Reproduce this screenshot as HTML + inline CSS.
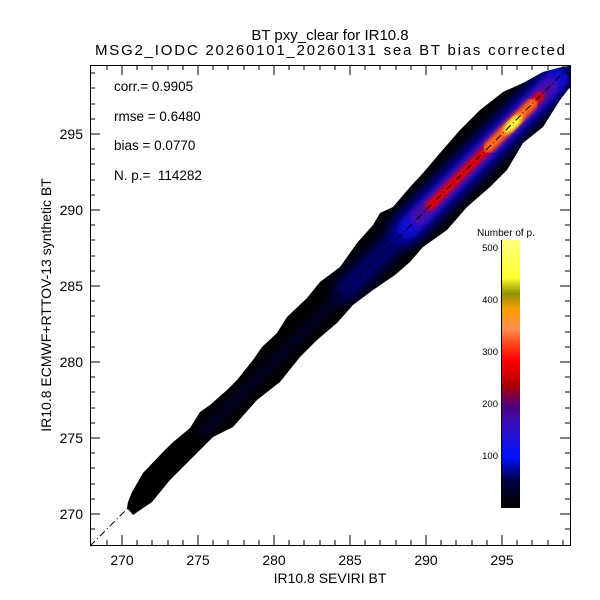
<!DOCTYPE html>
<html><head><meta charset="utf-8"><style>
html,body{margin:0;padding:0;background:#fff;}
svg{display:block;font-family:"Liberation Sans",sans-serif;}
</style></head><body>
<svg width="600" height="600" viewBox="0 0 600 600" xmlns="http://www.w3.org/2000/svg">
<defs>
<clipPath id="blob"><polygon points="127,508 128,502 132,492 143,473 162,453 172,443 190,428 200,412 210,405 227,390 237,380 253,360 262,347 277,333 287,317 307,298 320,282 340,267 357,243 373,225 380,213 393,207 410,187 423,173 440,153 460,130 480,110 503,92 523,83 543,72 562,67 570,66 570,87 560,100 543,127 523,143 507,170 490,187 467,207 447,230 423,247 410,262 395,275 373,290 353,305 337,323 317,340 300,357 280,382 257,400 233,427 213,437 190,460 170,480 152,502 133,515"/></clipPath>
<filter id="b4"><feGaussianBlur stdDeviation="4"/></filter>
<filter id="b8"><feGaussianBlur stdDeviation="8"/></filter>
<filter id="b2"><feGaussianBlur stdDeviation="2"/></filter>
<linearGradient id="cb" x1="0" y1="1" x2="0" y2="0">
<stop offset="0" stop-color="#000000"/><stop offset="0.1" stop-color="#000040"/>
<stop offset="0.19" stop-color="#0010ff"/><stop offset="0.3" stop-color="#3010c0"/>
<stop offset="0.38" stop-color="#500080"/><stop offset="0.46" stop-color="#b00000"/>
<stop offset="0.55" stop-color="#ff0000"/><stop offset="0.62" stop-color="#ff5020"/>
<stop offset="0.67" stop-color="#ff9050"/><stop offset="0.74" stop-color="#ffa000"/>
<stop offset="0.8" stop-color="#909000"/><stop offset="0.86" stop-color="#ffff30"/>
<stop offset="1" stop-color="#ffff80"/></linearGradient>
</defs>
<g clip-path="url(#blob)">
<rect x="90" y="65" width="480" height="480" fill="#000"/>
<line x1="200" y1="436" x2="570" y2="66" stroke="#000028" stroke-width="12" filter="url(#b4)"/>
<line x1="340" y1="296" x2="570" y2="66" stroke="#000080" stroke-width="20" filter="url(#b8)"/>
<line x1="400" y1="236" x2="565" y2="71" stroke="#1010ff" stroke-width="22" filter="url(#b8)"/>
<line x1="418" y1="218" x2="550" y2="86" stroke="#5010a0" stroke-width="16" filter="url(#b4)" stroke-linecap="round"/>
<line x1="430" y1="206" x2="540" y2="96" stroke="#e80000" stroke-width="9" filter="url(#b2)" stroke-linecap="round"/>
<line x1="488" y1="148" x2="533" y2="103" stroke="#ff7020" stroke-width="10" filter="url(#b2)" stroke-linecap="round"/>
<ellipse cx="513" cy="124" rx="12" ry="5" fill="#ffff40" transform="rotate(-45 513 124)" filter="url(#b2)"/>
</g>
<line x1="90" y1="546" x2="570" y2="66" stroke="#000" stroke-width="1" stroke-dasharray="7,3,1,3"/>
<rect x="90.5" y="65.5" width="480" height="480" fill="none" stroke="#000" stroke-width="1"/>
<g stroke="#000" stroke-width="1">
<path d="M107,545v-5M107,65v5M122,545v-10M122,65v10M137,545v-5M137,65v5M152,545v-5M152,65v5M168,545v-5M168,65v5M183,545v-5M183,65v5M198,545v-10M198,65v10M213,545v-5M213,65v5M228,545v-5M228,65v5M244,545v-5M244,65v5M259,545v-5M259,65v5M274,545v-10M274,65v10M289,545v-5M289,65v5M304,545v-5M304,65v5M320,545v-5M320,65v5M335,545v-5M335,65v5M350,545v-10M350,65v10M365,545v-5M365,65v5M380,545v-5M380,65v5M396,545v-5M396,65v5M411,545v-5M411,65v5M426,545v-10M426,65v10M441,545v-5M441,65v5M456,545v-5M456,65v5M472,545v-5M472,65v5M487,545v-5M487,65v5M502,545v-10M502,65v10M517,545v-5M517,65v5M532,545v-5M532,65v5M548,545v-5M548,65v5M563,545v-5M563,65v5"/>
<path d="M90,529h5M570,529h-5M90,514h10M570,514h-10M90,499h5M570,499h-5M90,484h5M570,484h-5M90,468h5M570,468h-5M90,453h5M570,453h-5M90,438h10M570,438h-10M90,423h5M570,423h-5M90,408h5M570,408h-5M90,392h5M570,392h-5M90,377h5M570,377h-5M90,362h10M570,362h-10M90,347h5M570,347h-5M90,332h5M570,332h-5M90,316h5M570,316h-5M90,301h5M570,301h-5M90,286h10M570,286h-10M90,271h5M570,271h-5M90,256h5M570,256h-5M90,240h5M570,240h-5M90,225h5M570,225h-5M90,210h10M570,210h-10M90,195h5M570,195h-5M90,180h5M570,180h-5M90,164h5M570,164h-5M90,149h5M570,149h-5M90,134h10M570,134h-10M90,119h5M570,119h-5M90,104h5M570,104h-5M90,88h5M570,88h-5M90,73h5M570,73h-5"/>
</g>
<g font-size="14" fill="#000" text-anchor="middle">
<text x="122" y="565">270</text><text x="198" y="565">275</text><text x="274" y="565">280</text>
<text x="350" y="565">285</text><text x="426" y="565">290</text><text x="502" y="565">295</text>
</g>
<g font-size="14" fill="#000" text-anchor="end">
<text x="83" y="519">270</text><text x="83" y="443">275</text><text x="83" y="367">280</text>
<text x="83" y="291">285</text><text x="83" y="215">290</text><text x="83" y="139">295</text>
</g>
<g font-size="15" fill="#000" text-anchor="middle">
<text x="330" y="40">BT pxy_clear for IR10.8</text>
<text x="330" y="55" textLength="470">MSG2_IODC 20260101_20260131 sea BT bias corrected</text>
<text x="330" y="583" font-size="14">IR10.8 SEVIRI BT</text>
<text transform="translate(51,305) rotate(-90)" font-size="14">IR10.8 ECMWF+RTTOV-13 synthetic BT</text>
</g>
<g font-size="13.5" fill="#000">
<text x="114" y="91">corr.= 0.9905</text>
<text x="114" y="121">rmse = 0.6480</text>
<text x="114" y="150">bias = 0.0770</text>
<text x="114" y="180" xml:space="preserve">N. p.=  114282</text>
</g>
<rect x="501" y="240" width="19" height="268" fill="url(#cb)"/>
<line x1="501.5" y1="240" x2="501.5" y2="508" stroke="#000"/>
<text x="477" y="236" font-size="10" fill="#000">Number of p.</text>
<g font-size="9.5" fill="#000" text-anchor="end">
<text x="498" y="251">500</text><text x="498" y="303">400</text><text x="498" y="355">300</text>
<text x="498" y="407">200</text><text x="498" y="459">100</text>
</g>
</svg>
</body></html>
